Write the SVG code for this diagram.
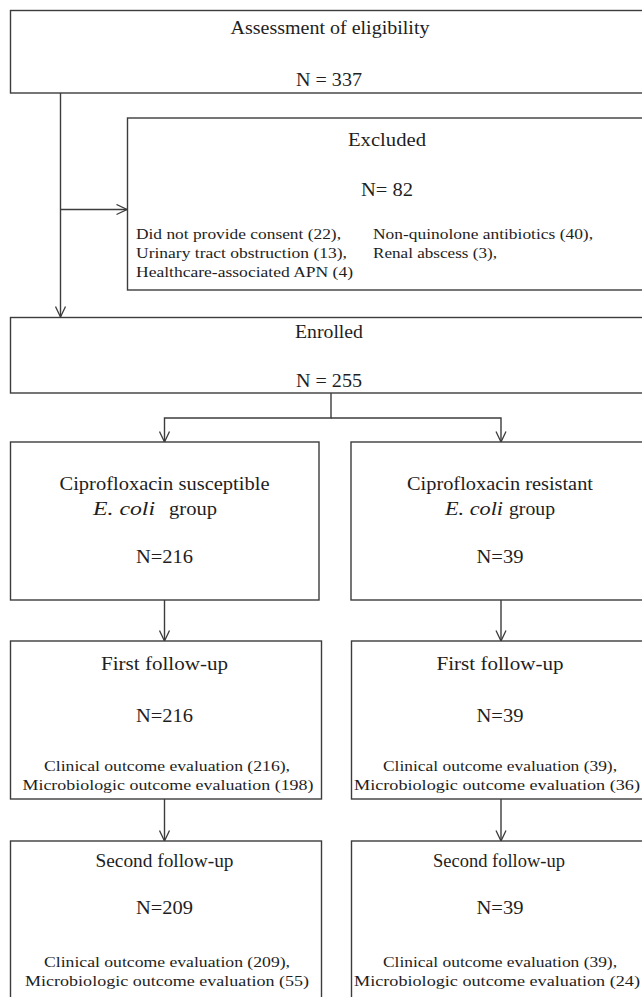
<svg xmlns="http://www.w3.org/2000/svg" width="642" height="997" viewBox="0 0 642 997">
<style>
  .box{fill:#fff;stroke:#3c3c3c;stroke-width:1.4}
  .ln{fill:none;stroke:#3c3c3c;stroke-width:1.4}
  text{font-family:"Liberation Serif","Times New Roman",serif;fill:#1e1e1e}
  .h{font-size:18px;text-anchor:middle}
  .s{font-size:15px}
  .sc{font-size:15px;text-anchor:middle}
  .it{font-style:italic}
</style>
<defs>
  <marker id="arr" viewBox="0 0 12 12" refX="11.5" refY="6" markerWidth="12" markerHeight="12" markerUnits="userSpaceOnUse" orient="auto">
    <path d="M1,1 L11.5,6 L1,11" fill="none" stroke="#3c3c3c" stroke-width="1.3"/>
  </marker>
</defs>
<rect width="642" height="997" fill="#fff"/>

<g id="connectors">
  <line class="ln" x1="60.5" y1="93" x2="60.5" y2="317" marker-end="url(#arr)"/>
  <line class="ln" x1="60.5" y1="209.5" x2="127" y2="209.5" marker-end="url(#arr)"/>
  <polyline class="ln" points="331,393 331,418 164.5,418 164.5,442" marker-end="url(#arr)"/>
  <polyline class="ln" points="331,418 501,418 501,442" marker-end="url(#arr)"/>
  <line class="ln" x1="164.5" y1="600" x2="164.5" y2="641" marker-end="url(#arr)"/>
  <line class="ln" x1="501" y1="600" x2="501" y2="641" marker-end="url(#arr)"/>
  <line class="ln" x1="164.5" y1="799" x2="164.5" y2="841" marker-end="url(#arr)"/>
  <line class="ln" x1="501" y1="799" x2="501" y2="841" marker-end="url(#arr)"/>
</g>

<g id="assessment">
  <rect class="box" x="10.5" y="10.5" width="660" height="82.5"/>
  <text class="h" x="330" y="34" textLength="199" lengthAdjust="spacingAndGlyphs">Assessment of eligibility</text>
  <text class="h" x="329" y="86" textLength="66" lengthAdjust="spacingAndGlyphs">N = 337</text>
</g>

<g id="excluded">
  <rect class="box" x="127.5" y="118" width="540" height="172"/>
  <text class="h" x="387" y="146" textLength="78" lengthAdjust="spacingAndGlyphs">Excluded</text>
  <text class="h" x="387" y="196" textLength="52" lengthAdjust="spacingAndGlyphs">N= 82</text>
  <text class="s" x="136" y="239" textLength="205" lengthAdjust="spacingAndGlyphs">Did not provide consent (22),</text>
  <text class="s" x="373" y="239" textLength="220" lengthAdjust="spacingAndGlyphs">Non-quinolone antibiotics (40),</text>
  <text class="s" x="136" y="258" textLength="211" lengthAdjust="spacingAndGlyphs">Urinary tract obstruction (13),</text>
  <text class="s" x="373" y="258" textLength="124" lengthAdjust="spacingAndGlyphs">Renal abscess (3),</text>
  <text class="s" x="136" y="277" textLength="217" lengthAdjust="spacingAndGlyphs">Healthcare-associated APN (4)</text>
</g>

<g id="enrolled">
  <rect class="box" x="10.5" y="317.5" width="660" height="75.5"/>
  <text class="h" x="329" y="338" textLength="68" lengthAdjust="spacingAndGlyphs">Enrolled</text>
  <text class="h" x="329" y="387" textLength="66" lengthAdjust="spacingAndGlyphs">N = 255</text>
</g>

<g id="susceptible">
  <rect class="box" x="10.5" y="442" width="308.5" height="158"/>
  <text class="h" x="164.5" y="490" textLength="210" lengthAdjust="spacingAndGlyphs">Ciprofloxacin susceptible</text>
  <text class="h it" x="93" y="515" style="text-anchor:start" textLength="62" lengthAdjust="spacingAndGlyphs">E. coli</text>
  <text class="h" x="169" y="515" style="text-anchor:start" textLength="48" lengthAdjust="spacingAndGlyphs">group</text>
  <text class="h" x="164.5" y="563" textLength="57" lengthAdjust="spacingAndGlyphs">N=216</text>
</g>

<g id="resistant">
  <rect class="box" x="351" y="442" width="320" height="158"/>
  <text class="h" x="500" y="490" textLength="186" lengthAdjust="spacingAndGlyphs">Ciprofloxacin resistant</text>
  <text class="h it" x="445" y="515" style="text-anchor:start" textLength="58" lengthAdjust="spacingAndGlyphs">E. coli</text>
  <text class="h" x="509" y="515" style="text-anchor:start" textLength="46" lengthAdjust="spacingAndGlyphs">group</text>
  <text class="h" x="500" y="563" textLength="47" lengthAdjust="spacingAndGlyphs">N=39</text>
</g>

<g id="first-followup-s">
  <rect class="box" x="10.5" y="641" width="311" height="158"/>
  <text class="h" x="164.5" y="670" textLength="127" lengthAdjust="spacingAndGlyphs">First  follow-up</text>
  <text class="h" x="164.5" y="722" textLength="57" lengthAdjust="spacingAndGlyphs">N=216</text>
  <text class="sc" x="167" y="771" textLength="246" lengthAdjust="spacingAndGlyphs">Clinical outcome evaluation (216),</text>
  <text class="sc" x="168" y="790" textLength="291" lengthAdjust="spacingAndGlyphs">Microbiologic outcome evaluation (198)</text>
</g>

<g id="first-followup-r">
  <rect class="box" x="351.5" y="641" width="320" height="158"/>
  <text class="h" x="500" y="670" textLength="127" lengthAdjust="spacingAndGlyphs">First  follow-up</text>
  <text class="h" x="500" y="722" textLength="47" lengthAdjust="spacingAndGlyphs">N=39</text>
  <text class="sc" x="500" y="771" textLength="234" lengthAdjust="spacingAndGlyphs">Clinical outcome evaluation (39),</text>
  <text class="s" x="354" y="790" textLength="286" lengthAdjust="spacingAndGlyphs">Microbiologic outcome evaluation (36)</text>
</g>

<g id="second-followup-s">
  <rect class="box" x="10.5" y="841" width="311" height="170"/>
  <text class="h" x="164.5" y="867" textLength="138" lengthAdjust="spacingAndGlyphs">Second  follow-up</text>
  <text class="h" x="164.5" y="914" textLength="57" lengthAdjust="spacingAndGlyphs">N=209</text>
  <text class="sc" x="167" y="967" textLength="246" lengthAdjust="spacingAndGlyphs">Clinical outcome evaluation (209),</text>
  <text class="sc" x="167" y="986" textLength="284" lengthAdjust="spacingAndGlyphs">Microbiologic outcome evaluation (55)</text>
</g>

<g id="second-followup-r">
  <rect class="box" x="351.5" y="841" width="320" height="170"/>
  <text class="h" x="499" y="867" textLength="132" lengthAdjust="spacingAndGlyphs">Second follow-up</text>
  <text class="h" x="500" y="914" textLength="47" lengthAdjust="spacingAndGlyphs">N=39</text>
  <text class="sc" x="500" y="967" textLength="234" lengthAdjust="spacingAndGlyphs">Clinical outcome evaluation (39),</text>
  <text class="s" x="354" y="986" textLength="286" lengthAdjust="spacingAndGlyphs">Microbiologic outcome evaluation (24)</text>
</g>
</svg>
